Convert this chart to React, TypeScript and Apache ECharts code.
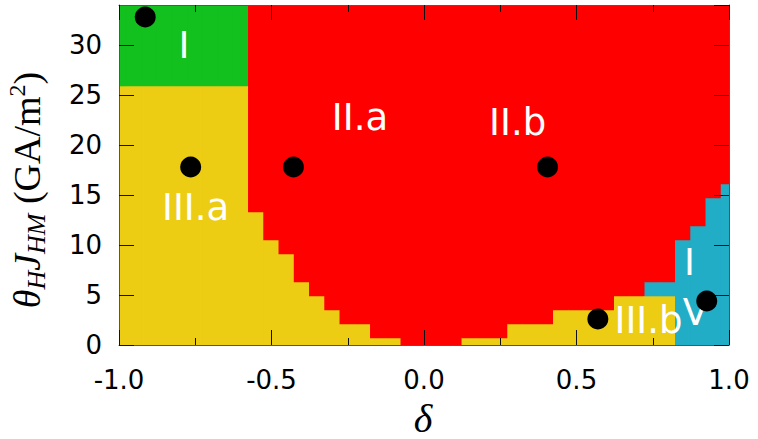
import React, { useEffect, useRef } from 'react';
import * as echarts from 'echarts';

// δ grid (cell centres)
const deltaGrid = [
  -1.0, -0.95, -0.9, -0.85, -0.8, -0.75, -0.7, -0.65, -0.6, -0.55, -0.5, -0.45, -0.4, -0.35,
  -0.3, -0.25, -0.2, -0.15, -0.1, -0.05, 0.0, 0.05, 0.1, 0.15, 0.2, 0.25, 0.3, 0.35, 0.4,
  0.45, 0.5, 0.55, 0.6, 0.65, 0.7, 0.75, 0.8, 0.85, 0.9, 0.95, 1.0,
];
// top of phase III (yellow) region in each column, GA/m²
const phaseIIITop = [
  25.9, 25.9, 25.9, 25.9, 25.9, 25.9, 25.9, 25.9, 25.9, 13.3, 10.5, 9.1, 6.3, 4.9,
  3.5, 2.1, 2.1, 0.7, 0.7, 0, 0, 0, 0, 0.7, 0.7, 0.7, 2.1, 2.1, 2.1,
  3.5, 3.5, 3.5, 3.5, 4.9, 4.9, 4.9, 4.9, 0, 0, 0, 0,
];
// top of phase IV (cyan) region in each column
const phaseIVTop = [
  25.9, 25.9, 25.9, 25.9, 25.9, 25.9, 25.9, 25.9, 25.9, 13.3, 10.5, 9.1, 6.3, 4.9,
  3.5, 2.1, 2.1, 0.7, 0.7, 0, 0, 0, 0, 0.7, 0.7, 0.7, 2.1, 2.1, 2.1,
  3.5, 3.5, 3.5, 3.5, 4.9, 4.9, 6.3, 6.3, 10.5, 11.9, 14.7, 16.1,
];
// phase above: I (green) or II (red)
const upperPhase = [
  'I', 'I', 'I', 'I', 'I', 'I', 'I', 'I', 'I',
  'II', 'II', 'II', 'II', 'II', 'II', 'II', 'II', 'II', 'II', 'II', 'II', 'II', 'II', 'II', 'II',
  'II', 'II', 'II', 'II', 'II', 'II', 'II', 'II', 'II', 'II', 'II', 'II', 'II', 'II', 'II', 'II',
];
const jMax = 34;
const cellHalfWidth = 0.025;

const phaseNames = ['I', 'II', 'III', 'IV'];
const phaseColors = ['#12c01e', '#ff0000', '#eccd14', '#21adc6'];

// black markers
const markerPoints = [
  [-0.914, 32.8],
  [-0.765, 17.8],
  [-0.428, 17.8],
  [0.405, 17.8],
  [0.57, 2.6],
  [0.927, 4.4],
];
// region labels
const regionLabels = ['I', 'II.a', 'II.b', 'III.a', 'III.b', 'I', 'V'];
const regionLabelX = [-0.787, -0.21, 0.307, -0.749, 0.736, 0.87, 0.89];
const regionLabelY = [30.0, 22.75, 22.3, 13.8, 2.5, 8.3, 3.3];

const xTicks = ['-1.0', '-0.5', '0.0', '0.5', '1.0'];

function buildCells() {
  const cells: number[][] = [];
  deltaGrid.forEach((d, i) => {
    const t3 = phaseIIITop[i];
    const t4 = phaseIVTop[i];
    if (t3 > 0) cells.push([d, 0, t3, 2]);
    if (t4 > t3) cells.push([d, t3, t4, 3]);
    cells.push([d, t4, jMax, phaseNames.indexOf(upperPhase[i])]);
  });
  return cells;
}

export default function App() {
  const ref = useRef<HTMLDivElement>(null);
  useEffect(() => {
    const chart = echarts.init(ref.current as HTMLDivElement, null, { renderer: 'svg' });
    const frame = { color: '#555', width: 1 };
    const tick = { color: '#111', width: 1 };
    const labelFont = { fontSize: 26, color: '#000', fontFamily: 'DejaVu Sans' };
    const xBase = (pos: string, labels: boolean) => ({
      type: 'value', min: -1, max: 1, interval: 0.5, position: pos, z: 3,
      axisLine: { show: true, onZero: false, lineStyle: frame },
      axisTick: { show: true, inside: true, length: 15, lineStyle: tick },
      minorTick: { show: true, splitNumber: 2, length: 7, lineStyle: tick },
      splitLine: { show: false },
      minorSplitLine: { show: false },
      axisLabel: labels
        ? { show: true, ...labelFont, margin: 22, formatter: (v: number) => xTicks[Math.round((v + 1) / 0.5)] ?? v.toFixed(1) }
        : { show: false },
    });
    const yBase = (pos: string, labels: boolean) => ({
      type: 'value', min: 0, max: jMax, interval: 5, position: pos, z: 3,
      axisLine: { show: true, onZero: false, lineStyle: frame },
      axisTick: { show: true, inside: true, length: 15, lineStyle: tick },
      splitLine: { show: false },
      axisLabel: labels
        ? { show: true, ...labelFont, margin: 17, showMaxLabel: false, formatter: (v: number) => (v % 5 === 0 ? String(v) : '') }
        : { show: false },
    });
    const option: any = {
      animation: false,
      backgroundColor: '#fff',
      grid: { left: 119, right: 29, top: 5, bottom: 94, containLabel: false },
      xAxis: [xBase('bottom', true), xBase('top', false)],
      yAxis: [yBase('left', true), yBase('right', false)],
      series: [
        {
          type: 'custom',
          xAxisIndex: 0,
          yAxisIndex: 0,
          z: 1,
          silent: true,
          encode: { x: 0, y: [1, 2] },
          data: buildCells(),
          renderItem: (params: any, api: any) => {
            const d = api.value(0);
            const lo = api.value(1);
            const hi = api.value(2);
            const ph = api.value(3);
            const p0 = api.coord([d - cellHalfWidth, lo]);
            const p1 = api.coord([d + cellHalfWidth, hi]);
            const rect = echarts.graphic.clipRectByRect(
              { x: p0[0] - 0.6, y: p1[1] - 0.3, width: p1[0] - p0[0] + 1.2, height: p0[1] - p1[1] + 0.6 },
              params.coordSys
            );
            if (!rect) return null;
            return {
              type: 'rect',
              shape: rect,
              style: { fill: phaseColors[ph] },
            };
          },
        },
        {
          type: 'scatter',
          z: 4,
          silent: true,
          symbolSize: 1,
          itemStyle: { color: 'rgba(0,0,0,0)', opacity: 1 },
          data: regionLabels.map((n, i) => ({ name: n, value: [regionLabelX[i], regionLabelY[i]] })),
          label: {
            show: true,
            position: 'inside',
            formatter: (p: any) => p.name,
            color: '#fff',
            opacity: 1,
            fontSize: 37,
            fontFamily: 'DejaVu Sans',
            align: 'center',
            verticalAlign: 'middle',
          },
        },
        {
          type: 'scatter',
          z: 5,
          silent: true,
          symbol: 'circle',
          symbolSize: 21,
          itemStyle: { color: '#000', opacity: 1 },
          data: markerPoints,
        },
      ],
      graphic: [
        {
          type: 'text',
          x: 27,
          y: 190,
          rotation: Math.PI / 2,
          style: {
            text: '{ti|θ}{sub|H}{ti|J}{sub|HM}{r| (GA/m}{sup|2}{r|)}',
            align: 'center',
            verticalAlign: 'middle',
            fill: '#000',
            rich: {
              ti: { fontFamily: 'Liberation Serif', fontStyle: 'italic', fontSize: 38, lineHeight: 44, fill: '#000' },
              sub: { fontFamily: 'Liberation Serif', fontStyle: 'italic', fontSize: 26, lineHeight: 22, verticalAlign: 'bottom', fill: '#000' },
              r: { fontFamily: 'Liberation Serif', fontSize: 38, lineHeight: 44, fill: '#000' },
              sup: { fontFamily: 'Liberation Serif', fontSize: 24, lineHeight: 24, verticalAlign: 'top', fill: '#000' },
            },
          },
        },
        {
          type: 'text',
          x: 423,
          y: 418,
          style: {
            text: 'δ',
            align: 'center',
            verticalAlign: 'middle',
            fontFamily: 'Liberation Serif',
            fontStyle: 'italic',
            fontSize: 40,
            fill: '#000',
          },
        },
      ],
    };
    chart.setOption(option);
    return () => chart.dispose();
  }, []);
  return <div ref={ref} style={{ position: 'fixed', left: 0, top: 0, width: 758, height: 439 }} />;
}
